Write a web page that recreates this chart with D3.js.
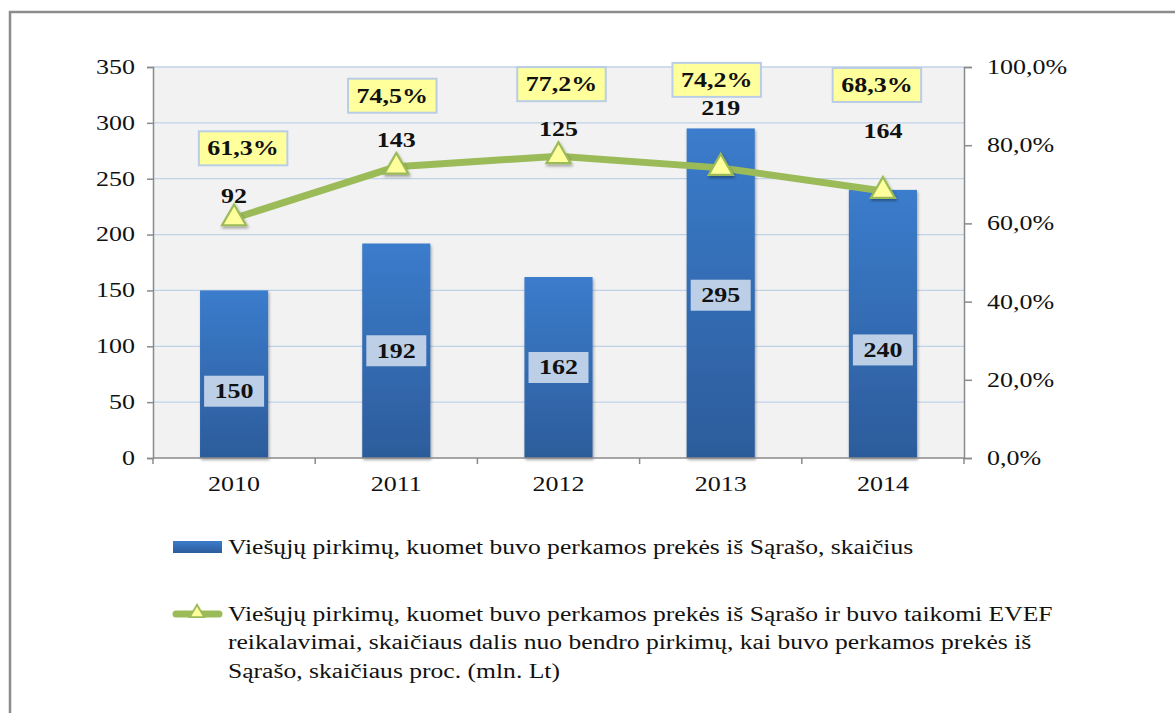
<!DOCTYPE html>
<html>
<head>
<meta charset="utf-8">
<script src="https://cdn.jsdelivr.net/npm/d3@7"></script>
<style>
  body { margin: 0; background: #fff; }
  text { font-family: "Liberation Serif", "Times New Roman", serif; fill: #111; }
</style>
</head>
<body>
<svg id="chart" width="1175" height="713"></svg>
<script>
const years = ['2010', '2011', '2012', '2013', '2014']
const purchases = [150, 192, 162, 295, 240]
const share = [0.613, 0.745, 0.772, 0.742, 0.683]
const eevfCount = [92, 143, 125, 219, 164]
const leftTicks = [0, 50, 100, 150, 200, 250, 300, 350]
const rightTicks = [0, 0.2, 0.4, 0.6, 0.8, 1]
const legendBar = 'Viešųjų pirkimų, kuomet buvo perkamos prekės iš Sąrašo, skaičius'
const legendLine = [
  'Viešųjų pirkimų, kuomet buvo perkamos prekės iš Sąrašo ir buvo taikomi EVEF',
  'reikalavimai, skaičiaus dalis nuo bendro pirkimų, kai buvo perkamos prekės iš',
  'Sąrašo, skaičiaus proc. (mln. Lt)'
]

// hand placed label offsets (px), like the original sheet
const barLabelDy = [17, 0, 0, 2, 26]
const countLabelDy = [-22, -27, -27, -60, -60]
const pctLabelDx = [9, -4, 3, -4, -6]
const pctLabelDy = [-70, -71, -72, -88, -106]

const S = 1.3 // horizontal stretch of the text in the source picture
const pLeft = 153, pRight = 964, pTop = 67, pBottom = 458

const svg = d3.select('#chart')

function stretch (sel, s) {
  s = s || S
  sel.attr('transform', function () {
    let x = +this.getAttribute('x') || 0
    return 'translate(' + (x * (1 - s)) + ',0) scale(' + s + ',1)'
  })
}

const defs = svg.append('defs')
let grad = defs.append('linearGradient').attr('id', 'barGrad')
  .attr('x1', 0).attr('y1', 0).attr('x2', 0).attr('y2', 1)
grad.append('stop').attr('offset', '0%').attr('stop-color', '#3b7ccc')
grad.append('stop').attr('offset', '100%').attr('stop-color', '#2c5c9b')
let shadow = defs.append('filter').attr('id', 'shadow')
  .attr('x', '-30%').attr('y', '-30%').attr('width', '160%').attr('height', '160%')
shadow.append('feDropShadow').attr('dx', 1).attr('dy', 2).attr('stdDeviation', 1.5)
  .attr('flood-color', '#000').attr('flood-opacity', 0.35)

// outer frame
svg.append('path').attr('d', 'M10,713 L10,12 L1175,12')
  .attr('fill', 'none').attr('stroke', '#8c8c8c').attr('stroke-width', 2.5)

const x = d3.scaleBand().domain(years).range([pLeft, pRight])
  .paddingInner(0.58).paddingOuter(0.29)
const y = d3.scaleLinear().domain([0, 350]).range([pBottom, pTop])
const y2 = d3.scaleLinear().domain([0, 1]).range([pBottom, pTop])

// plot area + grid
svg.append('rect').attr('x', pLeft).attr('y', pTop)
  .attr('width', pRight - pLeft).attr('height', pBottom - pTop).attr('fill', '#f2f2f2')
svg.append('g').selectAll('line').data(leftTicks.slice(1)).join('line')
  .attr('x1', pLeft).attr('x2', pRight)
  .attr('y1', d => y(d)).attr('y2', d => y(d))
  .attr('stroke', '#c0d2e8').attr('stroke-width', 1.3)

// bars
svg.append('g').selectAll('rect').data(purchases).join('rect')
  .attr('x', (d, i) => x(years[i]))
  .attr('y', d => y(d))
  .attr('width', x.bandwidth())
  .attr('height', d => pBottom - y(d))
  .attr('fill', 'url(#barGrad)')
  .attr('filter', 'url(#shadow)')

// axes
let yAxis = svg.append('g').attr('transform', 'translate(' + pLeft + ',0)')
  .call(d3.axisLeft(y).tickValues(leftTicks).tickSize(6).tickPadding(12).tickFormat(d3.format('d')))
let y2Axis = svg.append('g').attr('transform', 'translate(' + pRight + ',0)')
  .call(d3.axisRight(y2).tickValues(rightTicks).tickSize(8).tickPadding(15)
    .tickFormat(d => d3.format('.1f')(d * 100).replace('.', ',') + '%'))
let xAxis = svg.append('g').attr('transform', 'translate(0,' + pBottom + ')')
  .call(d3.axisBottom(x).tickSize(0).tickPadding(19))
xAxis.selectAll('.tick').append('line')
  .attr('x1', -x.step() / 2).attr('x2', -x.step() / 2).attr('y2', 6)
xAxis.append('line').attr('x1', pRight).attr('x2', pRight).attr('y2', 6)

for (let ax of [yAxis, y2Axis, xAxis]) {
  ax.attr('font-family', null).attr('font-size', null)
  ax.selectAll('.domain').attr('stroke', '#8a8a8a').attr('stroke-width', 1.5)
  ax.selectAll('line').attr('stroke', '#8a8a8a').attr('stroke-width', 1.5)
  ax.selectAll('text').attr('font-size', 20).attr('fill', '#111').call(stretch)
}
xAxis.select('.domain').attr('d', 'M' + pLeft + ',0H' + pRight)

// bar value labels
let barLab = svg.append('g').selectAll('g').data(purchases).join('g')
  .attr('transform', (d, i) => 'translate(' + (x(years[i]) + x.bandwidth() / 2) + ',' +
    ((y(d) + pBottom) / 2 + barLabelDy[i]) + ')')
barLab.append('rect')
barLab.append('text').attr('text-anchor', 'middle').attr('dy', '0.34em')
  .attr('font-size', 20).attr('font-weight', 'bold').text(d => d).call(stretch)
barLab.each(function () {
  let g = d3.select(this)
  let w = g.select('text').node().getBBox().width * S + 21
  g.select('rect').attr('x', -w / 2).attr('y', -15.5).attr('width', w).attr('height', 31)
    .attr('fill', '#bccfe6')
})

// share line
const lineGen = d3.line().x((d, i) => x(years[i]) + x.bandwidth() / 2).y(d => y2(d))
svg.append('path').datum(share).attr('d', lineGen)
  .attr('fill', 'none').attr('stroke', '#9bbb59').attr('stroke-width', 7)
  .attr('stroke-linejoin', 'round').attr('stroke-linecap', 'round')

const tri = d3.symbol().type(d3.symbolTriangle).size(250)
svg.append('g').selectAll('path').data(share).join('path')
  .attr('d', tri)
  .attr('transform', (d, i) => 'translate(' + (x(years[i]) + x.bandwidth() / 2) + ',' + y2(d) + ')')
  .attr('fill', '#ffff9c').attr('stroke', '#9bbb59').attr('stroke-width', 2.2)
  .attr('filter', 'url(#shadow)')

// counts above the line
svg.append('g').selectAll('text').data(eevfCount).join('text')
  .attr('x', (d, i) => x(years[i]) + x.bandwidth() / 2)
  .attr('y', (d, i) => y2(share[i]) + countLabelDy[i])
  .attr('dy', '0.34em').attr('text-anchor', 'middle')
  .attr('font-size', 20).attr('font-weight', 'bold').text(d => d).call(stretch)

// percent labels in yellow boxes
let pctLab = svg.append('g').selectAll('g').data(share).join('g')
  .attr('transform', (d, i) => 'translate(' + (x(years[i]) + x.bandwidth() / 2 + pctLabelDx[i]) + ',' +
    (y2(d) + pctLabelDy[i]) + ')')
pctLab.append('rect')
pctLab.append('text').attr('text-anchor', 'middle').attr('dy', '0.34em')
  .attr('font-size', 20).attr('font-weight', 'bold')
  .text(d => d3.format('.1f')(d * 100).replace('.', ',') + '%').call(stretch)
pctLab.each(function () {
  let g = d3.select(this)
  let w = g.select('text').node().getBBox().width * S + 17
  g.select('rect').attr('x', -w / 2).attr('y', -17).attr('width', w).attr('height', 34)
    .attr('fill', '#ffff9c').attr('stroke', '#b9cde5').attr('stroke-width', 2)
})

// legend
let lg = svg.append('g')
lg.append('rect').attr('x', 173).attr('y', 541).attr('width', 49).attr('height', 12)
  .attr('fill', 'url(#barGrad)')
lg.append('text').attr('x', 228).attr('y', 547).attr('dy', '0.34em')
  .attr('font-size', 20).text(legendBar).call(stretch, 1.28)

lg.append('line').attr('x1', 176).attr('x2', 219).attr('y1', 614).attr('y2', 614)
  .attr('stroke', '#9bbb59').attr('stroke-width', 7).attr('stroke-linecap', 'round')
lg.append('path').attr('d', d3.symbol().type(d3.symbolTriangle).size(90))
  .attr('transform', 'translate(197,613)')
  .attr('fill', '#ffff9c').attr('stroke', '#9bbb59').attr('stroke-width', 1.8)
lg.selectAll('.ll').data(legendLine).join('text').attr('class', 'll')
  .attr('x', 228).attr('y', (d, i) => 614 + i * 28.5).attr('dy', '0.34em')
  .attr('font-size', 20).text(d => d).call(stretch, 1.28)
</script>
</body>
</html>
